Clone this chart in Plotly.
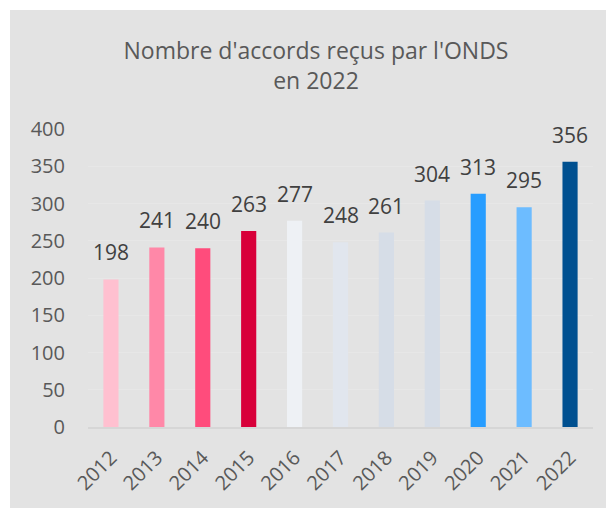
import plotly.graph_objects as go

years = ["2012", "2013", "2014", "2015", "2016", "2017", "2018", "2019", "2020", "2021", "2022"]
values = [198, 241, 240, 263, 277, 248, 261, 304, 313, 295, 356]
colors = ["#FFC0D0", "#FF88A8", "#FF4C7C", "#D8003A", "#EEF1F5", "#E1E6EE",
          "#D6DDE7", "#D6DDE7", "#279DFF", "#6DBCFF", "#005090"]
y_ticks = [0, 50, 100, 150, 200, 250, 300, 350, 400]

BG = "#E3E3E3"
OFF = 8  # page body margin
W, H = 614 - OFF, 510 - OFF
L, R, T, B = 88 - OFF, 614 - 593, 129 - OFF, 510 - 427
pw, ph = W - L - R, H - T - B

fig = go.Figure()
fig.add_trace(go.Bar(x=years, y=values, marker=dict(color=colors, line=dict(width=0)),
                     width=0.33, hoverinfo="skip"))

for i, v in enumerate(values):
    fig.add_annotation(x=i, y=v, text=str(v), showarrow=False, yanchor="bottom",
                       yshift=11, font=dict(family="Open Sans", size=21, color="#404040"))

# grey panel
fig.add_shape(type="rect", xref="paper", yref="paper", layer="below",
              x0=(10 - OFF - L) / pw, x1=(W - L) / pw,
              y0=(H - B - (508 - OFF)) / ph, y1=(H - B - (10 - OFF)) / ph,
              fillcolor=BG, line=dict(width=0))

fig.update_layout(
    width=W, height=H,
    margin=dict(l=L, r=R, t=T, b=B),
    paper_bgcolor="white", plot_bgcolor=BG,
    showlegend=False,
    title=dict(text="Nombre d'accords reçus par l'ONDS<br>en 2022", x=(316 - OFF) / W,
               xanchor="center", y=1 - (59 - OFF) / H, yanchor="middle",
               font=dict(family="Open Sans", size=23, color="#595959")),
    font=dict(family="Open Sans", color="#595959"),
    xaxis=dict(type="category", range=[-0.5, len(years) - 0.5], tickangle=-45, showgrid=False,
               showline=True, linecolor="#D6D6D6", linewidth=2, ticks="outside", ticklen=9,
               tickcolor="rgba(0,0,0,0)", tickfont=dict(size=20, color="#595959")),
    yaxis=dict(range=[0, 400], tickvals=y_ticks, showgrid=True, gridcolor="#E7E7E7",
               gridwidth=1, zeroline=False, showline=False, ticks="outside", ticklen=18,
               tickcolor="rgba(0,0,0,0)", tickfont=dict(size=20, color="#595959")),
)

fig.write_html("out.html")
